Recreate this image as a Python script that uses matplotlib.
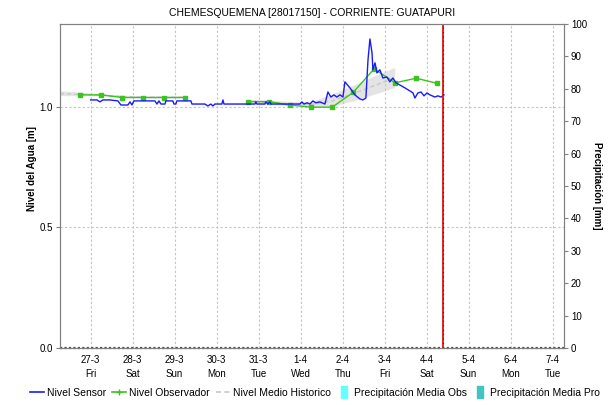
import numpy as np
import pandas as pd
import matplotlib
matplotlib.use("Agg")
import matplotlib.pyplot as plt
import matplotlib.dates as mdates
from matplotlib.lines import Line2D

plt.rcParams['font.family'] = ['Liberation Sans', 'DejaVu Sans']

title = "CHEMESQUEMENA [28017150] - CORRIENTE: GUATAPURI"
base_time = pd.Timestamp("2020-03-27 00:00")
x_start = pd.Timestamp("2020-03-26 06:30")
x_end = pd.Timestamp("2020-04-07 06:30")
now_time = pd.Timestamp("2020-04-04 09:30")

# Nivel Sensor (hours since 27-3 00:00, metres)
sensor_hours = [0, 3.6, 5.3, 7.0, 11.0, 15.6, 17.3, 21.3, 22.5, 23.6, 24.7, 36.7, 37.9, 39.0,
                40.2, 42.5, 43.0, 47.0, 47.6, 48.7, 49.3, 57.3, 57.9, 65.3, 67.0, 68.7, 69.9,
                71.0, 75.0, 75.6, 76.2, 93.9, 94.4, 95.0, 99.6, 100.1, 101.3, 102.4, 103.0,
                119.6, 120.7, 121.9, 123.6, 125.3, 127.0, 128.7, 131.0, 133.9, 135.6, 137.3,
                139.0, 140.7, 142.5, 144.2, 145.3, 148.2, 151.0, 153.9, 155.6, 157.3, 158.5,
                159.6, 160.8, 161.3, 162.5, 163.6, 165.3, 167.0, 169.3, 171.0, 172.7, 174.5,
                176.7, 179.6, 182.5, 184.2, 185.3, 187.0, 188.8, 190.5, 192.2, 193.9, 196.7,
                198.4, 200.2, 201.9]
sensor_values = [1.029, 1.029, 1.021, 1.029, 1.029, 1.025, 1.008, 1.008, 1.021, 1.008, 1.025,
                 1.025, 1.012, 1.025, 1.012, 1.012, 1.025, 1.025, 1.012, 1.012, 1.025, 1.025,
                 1.012, 1.012, 1.004, 1.012, 1.004, 1.012, 1.012, 1.029, 1.012, 1.012, 1.021,
                 1.012, 1.012, 1.021, 1.012, 1.021, 1.012, 1.012, 1.021, 1.012, 1.017, 1.012,
                 1.025, 1.017, 1.021, 1.012, 1.062, 1.041, 1.050, 1.041, 1.050, 1.041, 1.104,
                 1.079, 1.050, 1.033, 1.029, 1.037, 1.195, 1.282, 1.224, 1.154, 1.183, 1.141,
                 1.154, 1.120, 1.124, 1.104, 1.120, 1.100, 1.091, 1.079, 1.066, 1.058, 1.037,
                 1.058, 1.062, 1.046, 1.058, 1.050, 1.041, 1.046, 1.041, 1.050]

# Nivel Observador
obs_hours = [-6, 6, 18, 30, 42, 54, 72, 90, 102, 114, 126, 138, 150, 162, 174, 186, 198]
obs_values = [1.050, 1.050, 1.039, 1.039, 1.039, 1.039, np.nan, 1.022, 1.022, 1.008, 0.999,
              0.999, 1.060, 1.158, 1.100, 1.119, 1.098]

# Nivel Medio Historico (mean and half band)
hist_hours = [-17.5, -6, 6, 18, 30, 42, 54, 72, 90, 102, 114, 126, 138, 150, 162, 174]
hist_mean = [1.055, 1.052, 1.049, 1.043, 1.040, 1.040, 1.040, np.nan, 1.022, 1.018, 1.012,
             1.010, 1.025, 1.055, 1.088, 1.120]
hist_half = [0.010, 0.008, 0.004, 0.004, 0.004, 0.004, 0.004, np.nan, 0.008, 0.008, 0.009,
             0.010, 0.025, 0.032, 0.038, 0.042]

left_ticks = [0.0, 0.5, 1.0]
right_ticks = list(range(0, 101, 10))

def to_time(hours):
    return base_time + pd.to_timedelta(np.asarray(hours, dtype=float), unit="h")

fig = plt.figure(figsize=(6.08, 4.05), dpi=100)
ax = fig.add_axes([60/608, 57/405, 504/608, 324/405])

grid_col = "#c4c4c4"
st = (0, (2, 2))

ht = to_time(hist_hours)
hm = np.array(hist_mean)
hh = np.array(hist_half)
ax.fill_between(ht, hm - hh, hm + hh, color="#e4e4e4", lw=0, zorder=1)
ax.plot(ht, hm, color="#c8c8c8", lw=1.0, ls=(0, (3, 2)), zorder=2)

ax.plot(to_time(obs_hours), obs_values, color="#3cc31e", lw=1.0, marker="s", ms=2.4,
        mec="#3cc31e", zorder=3)
ax.plot(to_time(sensor_hours), sensor_values, color="#1a1aff", lw=1.0, zorder=4)

ax.axvline(now_time, color="#e81010", lw=1.3, zorder=5)
ax.axvline(now_time, color="#900000", lw=0.8, ls=(0, (1, 3)), zorder=6)

ax.set_xlim(x_start, x_end)
ax.set_ylim(0, 1.344)
ax.set_yticks(left_ticks)
ax.set_yticklabels([f"{v:.1f}" for v in left_ticks])

ax.xaxis.set_major_locator(mdates.DayLocator())
ax.xaxis.set_major_formatter(
    matplotlib.ticker.FuncFormatter(
        lambda v, p: (lambda d: f"{d.day}-{d.month}\n{d.strftime('%a')}")(mdates.num2date(v))))

ax.grid(True, color=grid_col, ls=st, lw=0.8)
ax.axhline(0, color="#505050", lw=1.6, ls=(0, (1, 1)), zorder=7, clip_on=False)

for s in ax.spines.values():
    s.set_color("#808080")
ax.tick_params(axis="x", length=0, labelsize=7, pad=5)
ax.tick_params(axis="y", length=3, color="#808080", labelsize=7, pad=2)
for lab in ax.get_xticklabels():
    lab.set_linespacing(1.5)

ax2 = ax.twinx()
ax2.set_ylim(0, 100)
ax2.set_yticks(right_ticks)
ax2.tick_params(axis="y", length=3, color="#808080", labelsize=7, pad=2)
for s in ax2.spines.values():
    s.set_color("#808080")

ax.set_title(title, fontsize=7.5, pad=6)
ax.set_ylabel("Nivel del Agua [m]", fontsize=7, fontweight="bold")
ax.yaxis.set_label_coords(-0.045, 0.555)
ax2.set_ylabel("Precipitación [mm]", fontsize=7, fontweight="bold", rotation=270)
ax2.yaxis.set_label_coords(1.075, 0.5)

rect = [(-0.5, -1), (0.5, -1), (0.5, 1), (-0.5, 1), (-0.5, -1)]
handles = [
    Line2D([], [], color="#1a1aff", lw=1.2),
    Line2D([], [], color="#3cc31e", lw=1.2, marker="+", ms=4),
    Line2D([], [], color="#c8c8c8", lw=1.2, ls=(0, (3, 2))),
    Line2D([], [], color="#66ffff", marker=rect, ms=8, ls="none"),
    Line2D([], [], color="#40c4c4", marker=rect, ms=8, ls="none"),
]
labels = ["Nivel Sensor", "Nivel Observador", "Nivel Medio Historico",
          "Precipitación Media Obs", "Precipitación Media Pro"]
fig.legend(handles, labels, loc="center", bbox_to_anchor=(0.518, 0.03), ncol=5,
           frameon=False, fontsize=7.5, handlelength=1.35, handletextpad=0.3,
           columnspacing=0.55)

fig.savefig("out.png", dpi=100)
